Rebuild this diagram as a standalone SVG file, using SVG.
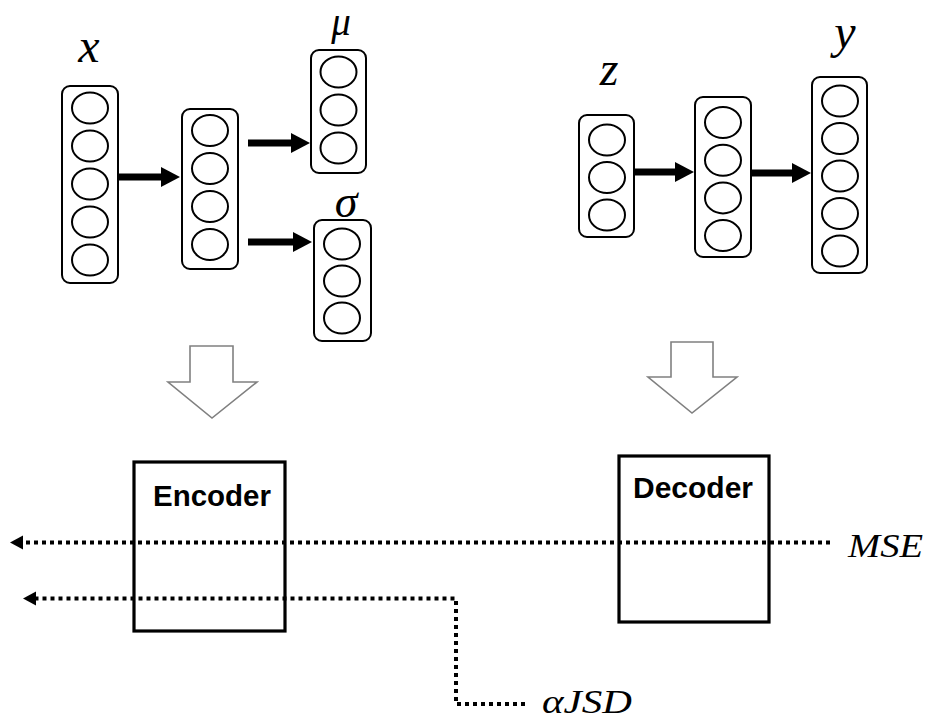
<svg xmlns="http://www.w3.org/2000/svg" width="931" height="726" viewBox="0 0 931 726">
  <style>
    .layer { fill: #fff; stroke: #000; stroke-width: 2; }
    .unit { fill: #fff; stroke: #000; stroke-width: 2; }
    .shaft { stroke: #000; stroke-width: 7; fill: none; }
    .block { fill: #fff; stroke: #000; stroke-width: 3.2; }
    .hollow { fill: #fff; stroke: #808080; stroke-width: 1.6; }
    .loss { fill: none; stroke: #000; stroke-width: 4; stroke-dasharray: 4 4; }
    .sym { font-family: "Liberation Serif", "DejaVu Serif", serif; font-style: italic; fill: #000; }
    .title { font-family: "Liberation Sans", Arial, sans-serif; font-weight: bold; font-size: 29px; fill: #000; text-anchor: middle; }
  </style>
  <defs>
    <marker id="head" markerUnits="userSpaceOnUse" markerWidth="20" markerHeight="22" refX="1" refY="10" orient="auto">
      <path d="M0,0 L19,10 L0,20 Z" fill="#000"/>
    </marker>
    <marker id="dothead" markerUnits="userSpaceOnUse" markerWidth="15" markerHeight="15" refX="1" refY="7" orient="auto">
      <path d="M0,0 L13,7 L0,14 Z" fill="#000"/>
    </marker>
  </defs>

  <!-- encoder network: input layer x -->
  <g id="layer-x">
    <rect class="layer" x="62" y="86" width="56" height="197" rx="8"/>
    <ellipse class="unit" cx="90" cy="108" rx="18" ry="15.5"/>
    <ellipse class="unit" cx="90" cy="146" rx="18" ry="15.5"/>
    <ellipse class="unit" cx="90" cy="184" rx="18" ry="15.5"/>
    <ellipse class="unit" cx="90" cy="222" rx="18" ry="15.5"/>
    <ellipse class="unit" cx="90" cy="260" rx="18" ry="15.5"/>
    <text class="sym" x="89" y="62" font-size="48" text-anchor="middle">x</text>
  </g>

  <!-- encoder hidden layer -->
  <g id="layer-enc-hidden">
    <rect class="layer" x="182" y="109" width="56" height="160" rx="8"/>
    <ellipse class="unit" cx="210" cy="130.5" rx="18" ry="15.5"/>
    <ellipse class="unit" cx="210" cy="168.5" rx="18" ry="15.5"/>
    <ellipse class="unit" cx="210" cy="206.5" rx="18" ry="15.5"/>
    <ellipse class="unit" cx="210" cy="244.5" rx="18" ry="15.5"/>
  </g>

  <!-- mean output -->
  <g id="layer-mu">
    <rect class="layer" x="311" y="50" width="55" height="123" rx="8"/>
    <ellipse class="unit" cx="338.5" cy="72" rx="18" ry="15.5"/>
    <ellipse class="unit" cx="338.5" cy="110" rx="18" ry="15.5"/>
    <ellipse class="unit" cx="338.5" cy="148" rx="18" ry="15.5"/>
    <text class="sym" x="341" y="35" font-size="39" text-anchor="middle">μ</text>
  </g>

  <!-- deviation output -->
  <g id="layer-sigma">
    <rect class="layer" x="314" y="220" width="57" height="121" rx="8"/>
    <ellipse class="unit" cx="342" cy="244" rx="18" ry="15.5"/>
    <ellipse class="unit" cx="342" cy="281" rx="18" ry="15.5"/>
    <ellipse class="unit" cx="342" cy="318" rx="18" ry="15.5"/>
    <text class="sym" x="346" y="217" font-size="46" text-anchor="middle">σ</text>
  </g>

  <!-- decoder network: latent z -->
  <g id="layer-z">
    <rect class="layer" x="579" y="115" width="55" height="122" rx="8"/>
    <ellipse class="unit" cx="607" cy="140" rx="18" ry="15.5"/>
    <ellipse class="unit" cx="607" cy="177.5" rx="18" ry="15.5"/>
    <ellipse class="unit" cx="607" cy="215" rx="18" ry="15.5"/>
    <text class="sym" x="609" y="85" font-size="48" text-anchor="middle">z</text>
  </g>

  <!-- decoder hidden layer -->
  <g id="layer-dec-hidden">
    <rect class="layer" x="695" y="97" width="56" height="160" rx="8"/>
    <ellipse class="unit" cx="723" cy="122.5" rx="18" ry="15.5"/>
    <ellipse class="unit" cx="723" cy="160.2" rx="18" ry="15.5"/>
    <ellipse class="unit" cx="723" cy="197.9" rx="18" ry="15.5"/>
    <ellipse class="unit" cx="723" cy="235.6" rx="18" ry="15.5"/>
  </g>

  <!-- decoder output y -->
  <g id="layer-y">
    <rect class="layer" x="812" y="77" width="55" height="196" rx="8"/>
    <ellipse class="unit" cx="840" cy="101" rx="18" ry="15.5"/>
    <ellipse class="unit" cx="840" cy="138.5" rx="18" ry="15.5"/>
    <ellipse class="unit" cx="840" cy="176" rx="18" ry="15.5"/>
    <ellipse class="unit" cx="840" cy="213.5" rx="18" ry="15.5"/>
    <ellipse class="unit" cx="840" cy="251" rx="18" ry="15.5"/>
    <text class="sym" x="845" y="48" font-size="48" text-anchor="middle">y</text>
  </g>

  <!-- block arrows pointing to the summarised modules -->
  <g id="collapse-encoder">
    <path class="hollow" d="M190,346 H233 V382 H257 L212,418 L168,382 H190 Z"/>
  </g>
  <g id="collapse-decoder">
    <path class="hollow" d="M671,342 H713 V377 H737 L692,413 L648,377 H671 Z"/>
  </g>

  <!-- summarised modules -->
  <g id="encoder">
    <rect class="block" x="134" y="462" width="151" height="169"/>
    <text class="title" x="212" y="506" textLength="118" lengthAdjust="spacingAndGlyphs">Encoder</text>
  </g>
  <g id="decoder">
    <rect class="block" x="619" y="456" width="150" height="166"/>
    <text class="title" x="693" y="498" textLength="120" lengthAdjust="spacingAndGlyphs">Decoder</text>
  </g>

  <!-- connectors -->
  <g id="connectors">
    <line class="shaft" x1="118" y1="177" x2="162" y2="177" marker-end="url(#head)"/>
    <line class="shaft" x1="248" y1="143" x2="292" y2="143" marker-end="url(#head)"/>
    <line class="shaft" x1="248" y1="242" x2="294" y2="242" marker-end="url(#head)"/>
    <line class="shaft" x1="634" y1="172" x2="676" y2="172" marker-end="url(#head)"/>
    <line class="shaft" x1="751" y1="173" x2="793" y2="173" marker-end="url(#head)"/>

    <path class="loss" d="M830,542.5 H22" marker-end="url(#dothead)"/>
    <path class="loss" d="M525,704 H456 V598.5 H35" marker-end="url(#dothead)"/>
  </g>

  <!-- loss labels -->
  <text class="sym" x="848" y="557" font-size="33" textLength="75" lengthAdjust="spacingAndGlyphs">MSE</text>
  <text class="sym" x="542" y="713" font-size="33" textLength="90" lengthAdjust="spacingAndGlyphs">αJSD</text>
</svg>
